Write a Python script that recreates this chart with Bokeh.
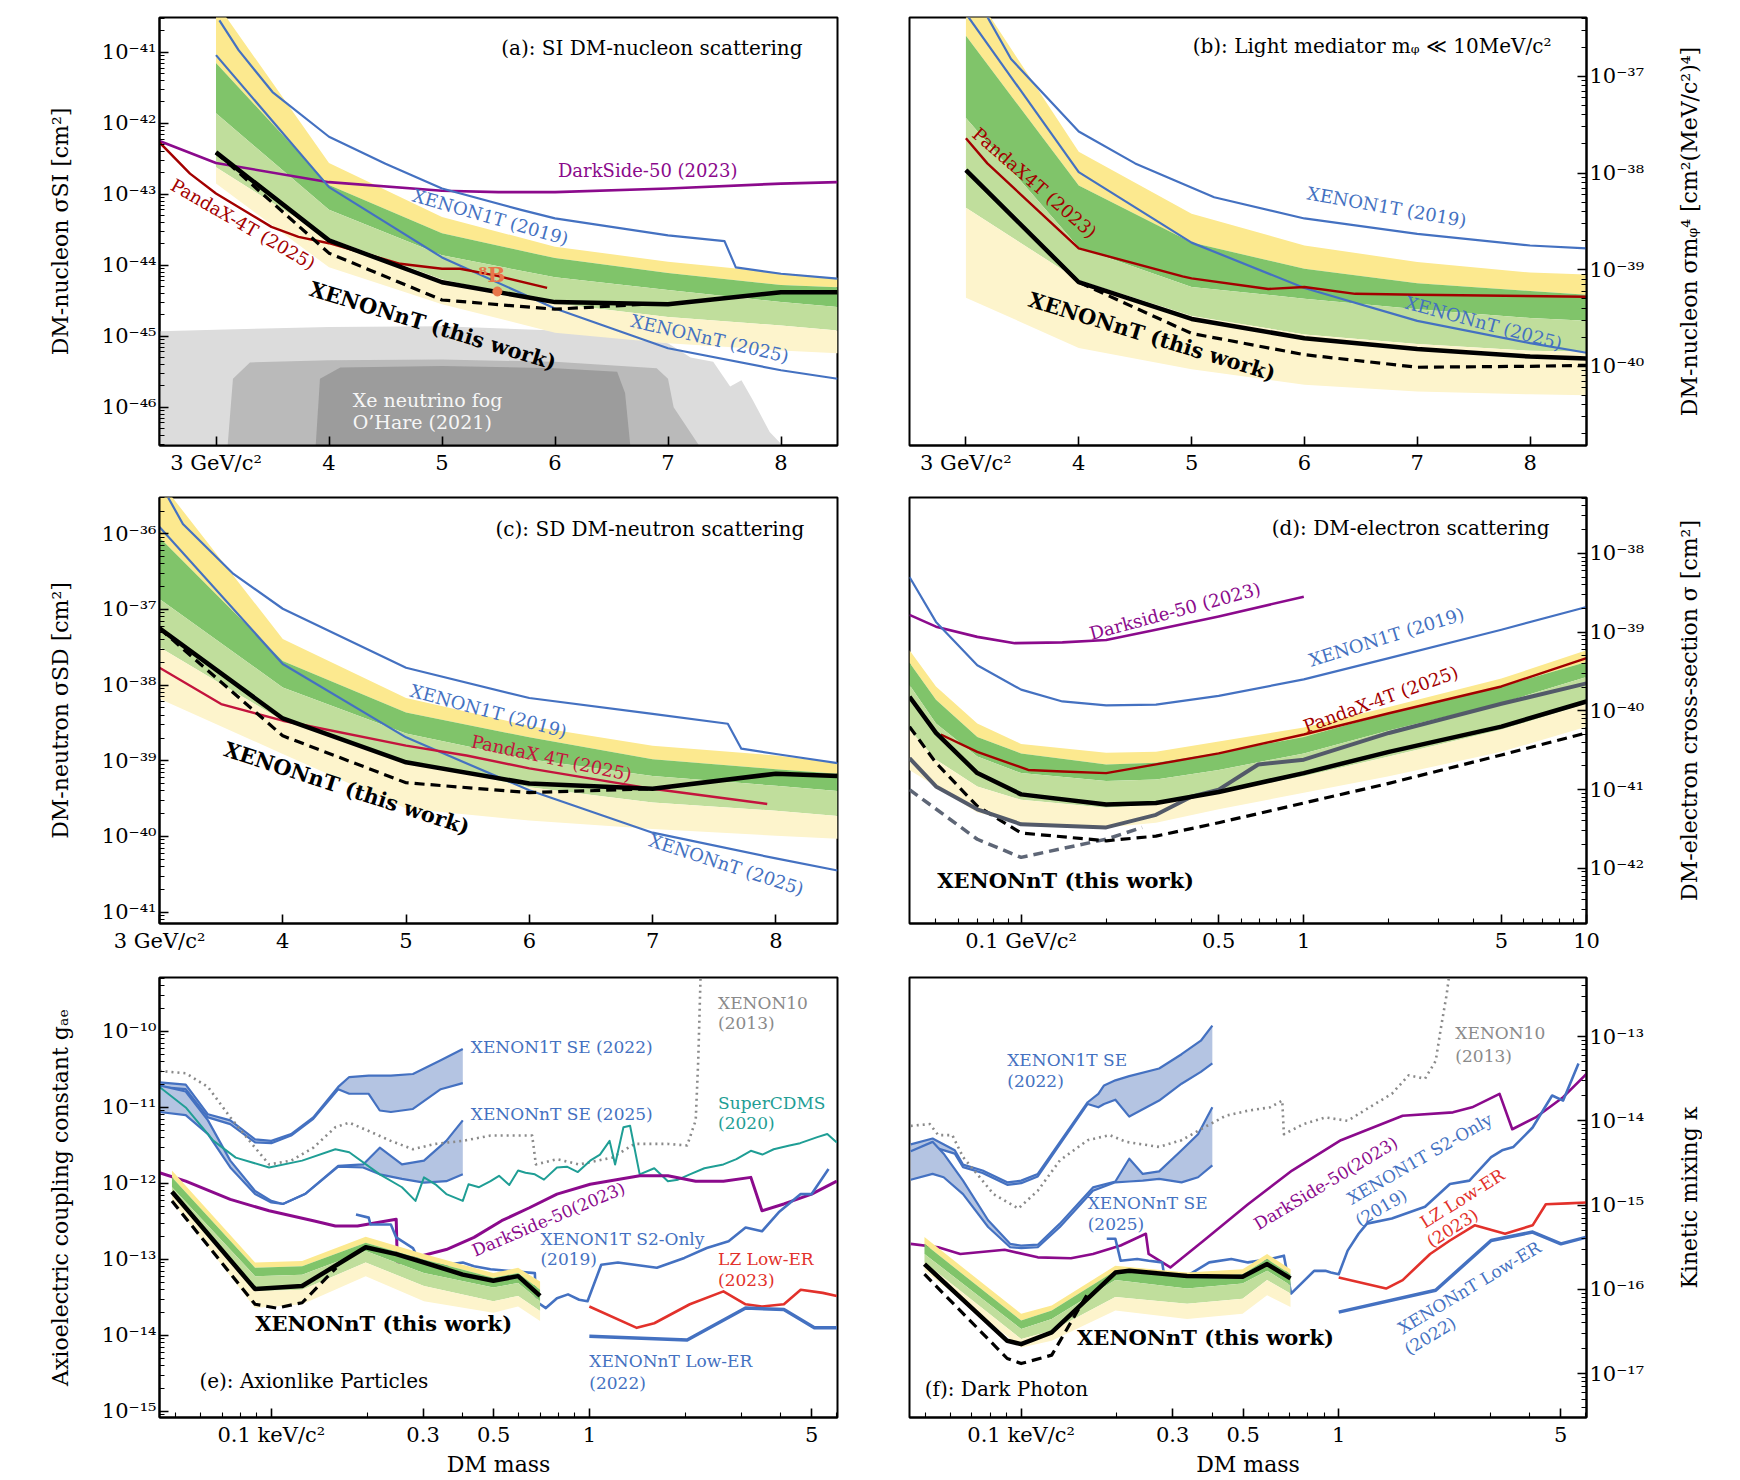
import numpy as np
from bokeh.plotting import figure
from bokeh.layouts import column, row
from bokeh.models import Range1d, FixedTicker, CustomJSTickFormatter, Label
from bokeh.embed import file_html
from bokeh.resources import INLINE

FONT = "DejaVu Serif"
BLUE = "#4471c1"
PURPLE = "#8b0a8c"
DARKRED = "#a30000"
CRIMSON = "#c3143d"
RED = "#e2312b"
TEAL = "#1f9e95"
GRAY = "#8a8a8a"
SLATE = "#535a69"
SLATE2 = "#5e6676"
ORANGE = "#e8764a"
YEL = "#fce98f"
DGREEN = "#80c46a"
LGREEN = "#c0de9c"
PALE = "#fdf4cc"
SEFILL = "#b4c4e2"
FOG1, FOG2, FOG3 = "#dcdcdc", "#bababa", "#9c9c9c"

# ---------------- data (log10 of cross-section / coupling) ----------------
# (a) SI DM-nucleon
A_BAND_X = [3, 4, 5, 6, 7, 8, 8.5]
A_UP2 = [-40.3, -42.56, -43.32, -43.74, -43.95, -44.11, -44.18]
A_UP1 = [-41.15, -42.87, -43.55, -43.90, -44.11, -44.28, -44.31]
A_MED = [-41.86, -43.22, -43.86, -44.17, -44.35, -44.52, -44.59]
A_LO1 = [-42.62, -43.62, -44.20, -44.54, -44.73, -44.85, -44.92]
A_LO2 = [-42.85, -44.03, -44.55, -44.95, -45.10, -45.20, -45.24]
A_OBS_X = [3, 4, 5, 6, 7, 8, 8.5]
A_OBS = [-42.41, -43.65, -44.24, -44.52, -44.55, -44.38, -44.38]
A_DASH_X = [3, 4, 5, 6, 6.8]
A_DASH = [-42.41, -43.83, -44.49, -44.62, -44.55]
A_X1T_X = [3.03, 3.2, 3.5, 4.0, 4.5, 5.0, 5.7, 6.0, 7.0, 7.5, 7.6, 8.0, 8.5]
A_X1T = [-40.55, -40.97, -41.56, -42.19, -42.57, -42.92, -43.22, -43.34, -43.58, -43.66, -44.03, -44.12, -44.19]
A_XNT_X = [3, 4, 5, 6, 7, 8, 8.5]
A_XNT = [-41.04, -42.90, -43.89, -44.61, -45.17, -45.48, -45.60]
A_DS_X = [2.5, 3, 4, 5, 5.5, 6, 7, 8, 8.5]
A_DS = [-42.25, -42.56, -42.83, -42.95, -42.97, -42.97, -42.92, -42.85, -42.83]
A_PDX_X = [2.5, 2.77, 3.0, 3.49, 3.73, 4.0, 4.63, 5.0, 5.16, 5.49, 5.93]
A_PDX = [-42.27, -42.71, -42.99, -43.46, -43.60, -43.69, -43.98, -44.05, -44.05, -44.15, -44.32]
A_B8_X = [5.49]
A_B8 = [-44.37]
A_FOG1_X = [2.5, 3.0, 4.0, 5.0, 6.0, 6.5, 7.0, 7.2, 7.4, 7.55, 7.65, 7.75, 7.9, 8.05]
A_FOG1 = [-44.93, -44.91, -44.87, -44.86, -44.92, -44.97, -45.10, -45.30, -45.36, -45.71, -45.62, -45.90, -46.35, -46.60]
A_FOG2_X = [3.1, 3.15, 3.3, 4.0, 5.0, 6.0, 6.9, 7.0, 7.05, 7.3]
A_FOG2 = [-46.6, -45.6, -45.37, -45.34, -45.33, -45.36, -45.45, -45.6, -46.0, -46.6]
A_FOG3_X = [3.88, 3.92, 4.1, 5.0, 6.0, 6.55, 6.62, 6.67]
A_FOG3 = [-46.6, -45.6, -45.44, -45.42, -45.45, -45.5, -45.8, -46.6]

# (b) light mediator
B_BAND_X = [3, 4, 5, 6, 7, 8, 8.5]
B_UP2 = [-36.0, -37.78, -38.42, -38.75, -38.92, -39.03, -39.05]
B_UP1 = [-36.58, -38.13, -38.72, -38.99, -39.14, -39.22, -39.26]
B_MED = [-37.43, -38.77, -39.18, -39.30, -39.41, -39.50, -39.53]
B_LO1 = [-38.36, -39.11, -39.48, -39.67, -39.77, -39.84, -39.85]
B_LO2 = [-39.29, -39.81, -40.03, -40.19, -40.26, -40.29, -40.30]
B_OBS_X = [3, 4, 5, 6, 7, 8, 8.5]
B_OBS = [-37.97, -39.13, -39.51, -39.71, -39.82, -39.90, -39.92]
B_DASH_X = [3, 4, 5, 6, 7, 8, 8.5]
B_DASH = [-37.97, -39.13, -39.66, -39.88, -40.01, -40.00, -39.99]
B_X1T_X = [3.15, 3.4, 4.0, 4.5, 5.2, 6, 7, 8, 8.5]
B_X1T = [-36.3, -36.82, -37.57, -37.9, -38.25, -38.47, -38.63, -38.75, -38.78]
B_XNT_X = [3, 4, 5, 6, 7, 8, 8.5]
B_XNT = [-36.35, -37.99, -38.72, -39.19, -39.53, -39.76, -39.86]
B_PDX_X = [3.0, 3.19, 4.0, 4.92, 5.0, 5.68, 6.0, 6.45, 7.0, 8.5]
B_PDX = [-37.64, -37.9, -38.78, -39.07, -39.09, -39.2, -39.18, -39.25, -39.26, -39.28]

# (c) SD DM-neutron
C_BAND_X = [3, 4, 5, 6, 7, 8, 8.5]
C_UP2 = [-35.3, -37.39, -38.17, -38.54, -38.80, -38.93, -39.03]
C_UP1 = [-36.05, -37.68, -38.36, -38.69, -38.98, -39.11, -39.17]
C_MED = [-36.86, -38.03, -38.64, -38.98, -39.20, -39.33, -39.40]
C_LO1 = [-37.50, -38.47, -39.00, -39.35, -39.55, -39.66, -39.73]
C_LO2 = [-38.18, -38.91, -39.63, -39.79, -39.90, -39.99, -40.03]
C_OBS_X = [3, 4, 5, 6, 7, 8, 8.5]
C_OBS = [-37.25, -38.44, -39.02, -39.30, -39.37, -39.17, -39.20]
C_DASH_X = [3, 4, 5, 6, 7]
C_DASH = [-37.25, -38.67, -39.29, -39.42, -39.37]
C_X1T_X = [3.07, 3.19, 3.6, 4, 5, 6, 7, 7.61, 7.72, 8, 8.5]
C_X1T = [-35.52, -35.87, -36.53, -36.99, -37.77, -38.17, -38.38, -38.51, -38.84, -38.91, -39.03]
C_XNT_X = [3, 4, 5, 6, 7, 8, 8.5]
C_XNT = [-35.91, -37.72, -38.69, -39.39, -39.95, -40.29, -40.45]
C_PDX_X = [3, 3.5, 4, 5, 5.49, 6, 7, 7.93]
C_PDX = [-37.77, -38.25, -38.47, -38.80, -38.93, -39.10, -39.37, -39.57]

# (d) DM-electron
D_BAND_X = [0.0403, 0.05, 0.07, 0.1, 0.2, 0.3, 0.5, 1, 2, 5, 10]
D_UP2 = [-39.23, -39.69, -40.16, -40.42, -40.53, -40.52, -40.39, -40.21, -39.95, -39.59, -39.23]
D_UP1 = [-39.39, -39.86, -40.33, -40.54, -40.68, -40.66, -40.53, -40.33, -40.03, -39.69, -39.38]
D_MED = [-39.67, -40.16, -40.58, -40.79, -40.89, -40.87, -40.75, -40.54, -40.25, -39.90, -39.57]
D_LO1 = [-40.24, -40.62, -40.96, -41.13, -41.23, -41.19, -41.04, -40.83, -40.58, -40.24, -39.91]
D_LO2 = [-40.75, -40.96, -41.29, -41.42, -41.48, -41.42, -41.25, -41.04, -40.83, -40.52, -40.20]
D_OBS = [-39.82, -40.28, -40.79, -41.06, -41.19, -41.17, -41.03, -40.79, -40.52, -40.20, -39.88]
D_DASH = [-40.20, -40.66, -41.21, -41.55, -41.65, -41.59, -41.42, -41.17, -40.92, -40.56, -40.28]
D_GR_X = [0.0403, 0.05, 0.07, 0.1, 0.2, 0.3, 0.4, 0.5, 0.69, 1, 2, 5, 10]
D_GR = [-40.60, -40.96, -41.25, -41.44, -41.48, -41.32, -41.09, -41.0, -40.68, -40.62, -40.28, -39.91, -39.65]
D_GRD_X = [0.0403, 0.07, 0.1, 0.2, 0.268]
D_GRD = [-41.0, -41.63, -41.86, -41.63, -41.48]
D_X1T_X = [0.0403, 0.05, 0.07, 0.1, 0.14, 0.2, 0.3, 0.5, 1, 2, 5, 10]
D_X1T = [-38.30, -38.87, -39.42, -39.73, -39.88, -39.93, -39.92, -39.81, -39.60, -39.33, -38.97, -38.68]
D_DS_X = [0.0403, 0.05, 0.07, 0.095, 0.14, 0.2, 0.3, 0.5, 1.0]
D_DS = [-38.78, -38.93, -39.06, -39.14, -39.13, -39.10, -38.97, -38.80, -38.55]
D_PDX_X = [0.052, 0.07, 0.106, 0.14, 0.2, 0.3, 0.5, 1, 2, 5, 10]
D_PDX = [-40.30, -40.52, -40.75, -40.77, -40.79, -40.68, -40.54, -40.30, -40.03, -39.69, -39.33]

# (e) axionlike particles
E_BAND_X = [0.0487, 0.0889, 0.125, 0.198, 0.302, 0.499, 0.597, 0.70]
E_UP2 = [-11.83, -13.04, -13.02, -12.70, -12.93, -13.18, -13.11, -13.29]
E_UP1 = [-11.92, -13.11, -13.09, -12.78, -13.00, -13.24, -13.18, -13.40]
E_MED = [-12.05, -13.22, -13.20, -12.89, -13.18, -13.37, -13.31, -13.55]
E_LO1 = [-12.14, -13.42, -13.40, -13.04, -13.35, -13.55, -13.48, -13.68]
E_LO2 = [-12.23, -13.64, -13.59, -13.22, -13.55, -13.70, -13.62, -13.81]
E_OBS_X = [0.0487, 0.0889, 0.125, 0.198, 0.247, 0.302, 0.40, 0.499, 0.597, 0.70]
E_OBS = [-12.11, -13.39, -13.35, -12.84, -12.93, -13.04, -13.20, -13.28, -13.22, -13.48]
E_DASH_X = [0.0487, 0.0889, 0.104, 0.125, 0.16]
E_DASH = [-12.23, -13.59, -13.64, -13.57, -13.11]
E_SE1_X = [0.0445, 0.0538, 0.0632, 0.0743, 0.0889, 0.1, 0.1154, 0.1355, 0.1623, 0.1758, 0.2024, 0.2193, 0.2376, 0.2788, 0.341, 0.40]
E_SE1_UP = [-10.67, -10.70, -11.09, -11.17, -11.42, -11.44, -11.35, -11.13, -10.73, -10.60, -10.58, -10.58, -10.58, -10.56, -10.38, -10.23]
E_SE1_LO = [-10.73, -10.76, -11.13, -11.22, -11.46, -11.47, -11.37, -11.15, -10.76, -10.82, -10.82, -11.04, -11.06, -11.02, -10.76, -10.68]
E_SE2_X = [0.0445, 0.0538, 0.0632, 0.0743, 0.0889, 0.1, 0.1087, 0.1276, 0.1623, 0.1944, 0.2193, 0.2575, 0.302, 0.355, 0.40]
E_SE2_UP = [-10.71, -10.79, -11.17, -11.70, -12.10, -12.23, -12.27, -12.14, -11.77, -11.75, -11.53, -11.75, -11.70, -11.44, -11.17]
E_SE2_LO = [-11.06, -11.10, -11.35, -11.79, -12.14, -12.25, -12.27, -12.14, -11.78, -11.79, -11.88, -11.94, -11.99, -11.97, -11.88]
E_CDMS_X = [0.0445, 0.0538, 0.0658, 0.0773, 0.0984, 0.125, 0.159, 0.1758, 0.2193, 0.2575, 0.284, 0.302, 0.33, 0.355,
            0.40, 0.417, 0.45, 0.489, 0.52, 0.56, 0.597, 0.63, 0.674, 0.72, 0.791, 0.85, 0.92, 1.006, 1.08, 1.158,
            1.205, 1.28, 1.343, 1.44, 1.6, 1.766, 1.9, 2.07, 2.3, 2.64, 2.9, 3.22, 3.5, 3.8, 4.26, 4.6, 5.21, 5.6, 6.0]
E_CDMS = [-10.73, -11.00, -11.44, -11.66, -11.79, -11.70, -11.55, -11.59, -11.88, -12.05, -12.23, -11.92, -12.02, -12.14,
          -12.23, -12.01, -12.05, -11.97, -11.90, -12.02, -11.83, -11.86, -11.88, -11.95, -11.79, -11.78, -11.85, -11.70, -11.62, -11.44,
          -11.75, -11.26, -11.24, -11.88, -11.80, -11.97, -11.95, -11.88, -11.80, -11.75, -11.68, -11.57, -11.62, -11.55, -11.50, -11.47, -11.39, -11.35, -11.46]
E_X10_X = [0.0445, 0.0538, 0.0632, 0.0743, 0.0889, 0.0984, 0.1154, 0.1355, 0.159, 0.1758, 0.2024, 0.2376, 0.2788, 0.327,
           0.40, 0.489, 0.661, 0.679, 0.791, 0.929, 1.181, 1.387, 1.766, 2.03, 2.16, 2.20, 2.24]
E_X10 = [-10.52, -10.55, -10.73, -11.13, -11.53, -11.75, -11.70, -11.53, -11.26, -11.20, -11.31, -11.44, -11.55, -11.48,
         -11.44, -11.37, -11.37, -11.75, -11.68, -11.75, -11.66, -11.48, -11.48, -11.50, -11.17, -10.38, -9.2]
E_DS_X = [0.0445, 0.0538, 0.0743, 0.0984, 0.1355, 0.159, 0.1866, 0.247, 0.249, 0.268, 0.355, 0.434, 0.530, 0.648, 0.791,
          1.006, 1.44, 1.766, 2.16, 2.64, 3.22, 3.49, 4.09, 5.0, 6.0]
E_DS = [-11.86, -11.97, -12.21, -12.36, -12.49, -12.56, -12.56, -12.47, -13.06, -13.00, -12.87, -12.71, -12.49, -12.32, -12.14,
        -12.01, -11.90, -11.90, -11.97, -11.97, -11.92, -12.36, -12.27, -12.14, -11.97]
E_S2_X = [0.1846, 0.2024, 0.205, 0.2376, 0.247, 0.2788, 0.302, 0.315, 0.355, 0.40, 0.434, 0.489, 0.674, 0.679, 0.730, 0.791,
          0.857, 0.929, 0.987, 1.09, 1.23, 1.63, 1.99, 2.34, 2.74, 3.1, 3.49, 3.94, 4.62, 5.0, 5.65]
E_S2 = [-12.41, -12.45, -12.54, -12.54, -12.71, -12.85, -13.15, -13.07, -13.07, -13.04, -13.09, -13.13, -13.18, -13.55, -13.64, -13.51,
        -13.46, -13.53, -13.55, -13.07, -13.04, -13.11, -12.98, -12.85, -12.76, -12.58, -12.63, -12.38, -12.14, -12.14, -11.81]
E_LZ_X = [1.0, 1.41, 1.6, 2.07, 2.64, 3.1, 3.49, 4.09, 4.62, 5.42, 6.0]
E_LZ = [-13.62, -13.90, -13.84, -13.59, -13.42, -13.59, -13.62, -13.59, -13.40, -13.44, -13.48]
E_LOWER_X = [1.0, 2.03, 3.1, 4.09, 5.1, 6.0]
E_LOWER = [-14.01, -14.06, -13.64, -13.66, -13.90, -13.90]

# (f) dark photon
F_BAND_X = [0.0496, 0.1, 0.1248, 0.198, 0.333, 0.498, 0.595, 0.705]
F_UP2 = [-15.38, -16.29, -16.19, -15.72, -15.80, -15.76, -15.58, -15.76]
F_UP1 = [-15.46, -16.37, -16.25, -15.78, -15.86, -15.82, -15.64, -15.82]
F_MED = [-15.58, -16.47, -16.35, -15.89, -15.99, -15.93, -15.78, -15.95]
F_LO1 = [-15.68, -16.59, -16.49, -16.09, -16.17, -16.11, -15.89, -16.05]
F_LO2 = [-15.78, -16.69, -16.61, -16.25, -16.35, -16.29, -16.07, -16.21]
F_OBS_X = [0.0496, 0.0904, 0.1, 0.1248, 0.198, 0.219, 0.333, 0.498, 0.595, 0.705]
F_OBS = [-15.70, -16.61, -16.65, -16.51, -15.80, -15.78, -15.84, -15.85, -15.70, -15.87]
F_DASH_X = [0.0496, 0.0904, 0.1, 0.1248, 0.162]
F_DASH = [-15.82, -16.82, -16.88, -16.78, -16.05]
F_SE1_X = [0.0449, 0.0526, 0.0618, 0.0656, 0.0756, 0.0904, 0.1, 0.1128, 0.162, 0.175, 0.1824, 0.198, 0.219, 0.272, 0.320, 0.368, 0.40]
F_SE1_UP = [-14.28, -14.21, -14.35, -14.52, -14.59, -14.73, -14.71, -14.63, -13.78, -13.68, -13.58, -13.52, -13.47, -13.38, -13.21, -13.05, -12.87]
F_SE1_LO = [-14.37, -14.31, -14.39, -14.55, -14.62, -14.76, -14.74, -14.66, -13.80, -13.84, -13.80, -13.75, -13.95, -13.76, -13.56, -13.42, -13.32]
F_SE2_X = [0.0449, 0.0526, 0.0570, 0.0656, 0.0787, 0.0923, 0.1, 0.1128, 0.1324, 0.1683, 0.198, 0.219, 0.2415, 0.272, 0.320, 0.3606, 0.40]
F_SE2_UP = [-14.36, -14.25, -14.39, -14.71, -15.18, -15.46, -15.48, -15.47, -15.22, -14.79, -14.72, -14.45, -14.63, -14.60, -14.35, -14.16, -13.84]
F_SE2_LO = [-14.70, -14.63, -14.67, -14.87, -15.26, -15.50, -15.51, -15.50, -15.26, -14.83, -14.73, -14.72, -14.71, -14.69, -14.73, -14.67, -14.53]
F_X10_X = [0.0449, 0.0516, 0.0548, 0.0607, 0.0656, 0.0726, 0.0818, 0.098, 0.1128, 0.1324, 0.162, 0.190, 0.214, 0.272, 0.320, 0.376,
           0.441, 0.518, 0.608, 0.664, 0.672, 0.774, 0.908, 1.067, 1.25, 1.47, 1.66, 1.87, 2.02, 2.1, 2.19, 2.24]
F_X10 = [-14.06, -14.04, -14.17, -14.17, -14.43, -14.63, -14.87, -15.04, -14.83, -14.47, -14.23, -14.17, -14.25, -14.31, -14.23, -14.08,
         -13.94, -13.88, -13.84, -13.76, -14.16, -14.04, -13.96, -14.00, -13.84, -13.68, -13.46, -13.50, -13.29, -12.89, -12.49, -12.2]
F_DS_X = [0.0449, 0.0548, 0.0643, 0.0887, 0.1128, 0.1435, 0.1683, 0.2057, 0.247, 0.252, 0.295, 0.376, 0.518, 0.713, 1.016, 1.59,
          2.29, 2.63, 3.21, 3.52, 4.17, 5.09, 6.04]
F_DS = [-15.46, -15.50, -15.58, -15.53, -15.62, -15.63, -15.58, -15.48, -15.34, -15.58, -15.74, -15.42, -14.99, -14.59, -14.23, -13.94,
        -13.90, -13.84, -13.68, -14.10, -13.96, -13.72, -13.44]
F_S2_X = [0.186, 0.198, 0.2057, 0.232, 0.252, 0.278, 0.284, 0.314, 0.333, 0.391, 0.459, 0.518, 0.608, 0.672, 0.708, 0.837, 0.908,
          0.945, 1.0, 1.067, 1.155, 1.227, 1.47, 1.87, 2.24, 2.58, 3.02, 3.27, 3.55, 4.08, 4.70, 5.09, 5.69]
F_S2 = [-15.40, -15.40, -15.66, -15.64, -15.66, -15.68, -15.91, -15.91, -15.84, -15.68, -15.64, -15.68, -15.64, -15.60, -16.05, -15.78, -15.78,
        -15.80, -15.82, -15.54, -15.34, -15.22, -15.16, -15.02, -14.75, -14.71, -14.43, -14.35, -14.31, -14.08, -13.70, -13.76, -13.32]
F_LZ_X = [1.0, 1.41, 1.59, 1.94, 2.24, 2.68, 3.34, 4.08, 4.49, 5.26, 6.04]
F_LZ = [-15.86, -15.99, -15.89, -15.58, -15.42, -15.24, -15.34, -15.24, -14.99, -14.98, -14.97]
F_LOWER_X = [1.0, 2.02, 3.02, 4.08, 5.01, 6.04]
F_LOWER = [-16.27, -16.01, -15.42, -15.32, -15.46, -15.38]

# axis tick values
LIN_TICKS = [3, 4, 5, 6, 7, 8]
D_TICKS = [0.1, 0.5, 1, 5, 10]
D_MINOR = [0.05, 0.06, 0.07, 0.08, 0.09, 0.2, 0.3, 0.4, 0.6, 0.7, 0.8, 0.9, 2, 3, 4, 6, 7, 8, 9]
EF_TICKS = [0.1, 0.3, 0.5, 1, 5]
EF_MINOR = [0.05, 0.06, 0.07, 0.08, 0.09, 0.2, 0.4, 0.6, 0.7, 0.8, 0.9, 2, 3, 4, 6]


def pw(v):
    return np.power(10.0, np.asarray(v, dtype=float))


YFMT = """
const e = Math.round(Math.log10(tick));
const sup = {"-": "\u207b", "0": "\u2070", "1": "\u00b9", "2": "\u00b2", "3": "\u00b3",
             "4": "\u2074", "5": "\u2075", "6": "\u2076", "7": "\u2077", "8": "\u2078", "9": "\u2079"};
let s = "";
for (const c of String(e)) { s += sup[c]; }
return "10" + s;
"""


def xfmt(first, unit):
    return CustomJSTickFormatter(code=f"""
const k = String(tick);
if (k === "{first}") return "{first} {unit}";
return k;
""")


def make_fig(x0, x1, ylo, yhi, xlog, right, fh, btop, bbot):
    p = figure(x_range=Range1d(x0, x1), y_range=Range1d(10.0 ** ylo, 10.0 ** yhi),
               x_axis_type="log" if xlog else "linear", y_axis_type="log",
               y_axis_location="right" if right else "left",
               frame_width=677 if right else 678, frame_height=fh,
               min_border_left=52 if right else 159, min_border_right=70 if right else 20,
               min_border_top=btop, min_border_bottom=bbot,
               output_backend="svg", toolbar_location=None)
    p.outline_line_color = "black"
    p.outline_line_width = 2
    p.outline_line_alpha = 1.0
    p.grid.visible = False
    p.background_fill_color = "white"
    p.border_fill_color = "white"
    kmaj = list(range(int(np.ceil(ylo)), int(np.floor(yhi)) + 1))
    kmin = list(range(int(np.floor(ylo)), int(np.ceil(yhi)) + 1))
    p.yaxis.ticker = FixedTicker(ticks=[10.0 ** k for k in kmaj],
                                 minor_ticks=[m * 10.0 ** k for k in kmin for m in range(2, 10)])
    p.yaxis.formatter = CustomJSTickFormatter(code=YFMT)
    for ax in p.axis:
        ax.axis_line_color = "black"
        ax.axis_line_width = 2
        ax.major_tick_line_color = "black"
        ax.major_tick_line_width = 1.6
        ax.minor_tick_line_color = "black"
        ax.minor_tick_line_width = 1.1
        ax.major_tick_in = 9
        ax.major_tick_out = 0
        ax.minor_tick_in = 5
        ax.minor_tick_out = 0
        ax.major_label_text_font = FONT
        ax.major_label_text_font_size = "21px"
        ax.major_label_text_color = "black"
        ax.major_label_standoff = 5
        ax.axis_label_text_font = FONT
        ax.axis_label_text_font_size = "22px"
        ax.axis_label_text_font_style = "normal"
        ax.axis_label_text_color = "black"
        ax.axis_label_standoff = 8
    for ax in p.yaxis:
        ax.major_label_standoff = 3
        ax.axis_label_standoff = 26
    return p


def side_label(text, fh, btop, bbot):
    # narrow companion figure whose left axis carries the right-hand axis title
    q = figure(x_range=Range1d(0, 1), y_range=Range1d(0, 1), frame_width=1, frame_height=fh,
               min_border_left=45, min_border_right=0, min_border_top=btop, min_border_bottom=bbot,
               output_backend="svg", toolbar_location=None)
    q.outline_line_color = None
    q.grid.visible = False
    q.background_fill_color = "white"
    q.border_fill_color = "white"
    q.xaxis.visible = False
    ax = q.yaxis[0]
    ax.ticker = FixedTicker(ticks=[], minor_ticks=[])
    ax.axis_line_color = None
    ax.major_tick_line_color = None
    ax.minor_tick_line_color = None
    ax.major_tick_out = 0
    ax.minor_tick_out = 0
    ax.major_label_standoff = 0
    ax.axis_label = text
    ax.axis_label_standoff = 0
    ax.axis_label_text_font = FONT
    ax.axis_label_text_font_size = "22px"
    ax.axis_label_text_font_style = "normal"
    ax.axis_label_text_color = "black"
    return q


def band(p, x, up2, up1, med, lo1, lo2):
    x = np.asarray(x, dtype=float)
    p.varea(x=x, y1=pw(up1), y2=pw(up2), fill_color=YEL)
    p.varea(x=x, y1=pw(med), y2=pw(up1), fill_color=DGREEN)
    p.varea(x=x, y1=pw(lo1), y2=pw(med), fill_color=LGREEN)
    p.varea(x=x, y1=pw(lo2), y2=pw(lo1), fill_color=PALE)


def ln(p, x, y, color, width=2.0, dash="solid"):
    p.line(np.asarray(x, dtype=float), pw(y), line_color=color, line_width=width,
           line_dash=dash, line_join="round")


def se_band(p, x, up, lo):
    x = np.asarray(x, dtype=float)
    p.varea(x=x, y1=pw(lo), y2=pw(up), fill_color=SEFILL)
    ln(p, x, up, BLUE, 2.2)
    ln(p, x, lo, BLUE, 2.2)


def lab(p, x, ylog, text, color="black", size="18px", angle=0.0, align="center",
        baseline="middle", style="normal"):
    p.add_layout(Label(x=x, y=10.0 ** ylog, text=text, text_color=color, text_font=FONT,
                       text_font_size=size, angle=angle, angle_units="deg",
                       text_align=align, text_baseline=baseline, text_font_style=style))


# ---------------- (a) ----------------
pa = make_fig(2.5, 8.5, -46.54, -40.51, False, False, 428, 17, 44)
ymin_a = 10.0 ** -46.6
pa.varea(x=np.asarray(A_FOG1_X, float), y1=ymin_a, y2=pw(A_FOG1), fill_color=FOG1)
pa.varea(x=np.asarray(A_FOG2_X, float), y1=ymin_a, y2=pw(A_FOG2), fill_color=FOG2)
pa.varea(x=np.asarray(A_FOG3_X, float), y1=ymin_a, y2=pw(A_FOG3), fill_color=FOG3)
band(pa, A_BAND_X, A_UP2, A_UP1, A_MED, A_LO1, A_LO2)
ln(pa, A_DS_X, A_DS, PURPLE, 2.6)
ln(pa, A_X1T_X, A_X1T, BLUE, 2.2)
ln(pa, A_XNT_X, A_XNT, BLUE, 2.2)
ln(pa, A_PDX_X, A_PDX, DARKRED, 2.4)
ln(pa, A_DASH_X, A_DASH, "black", 3.2, "10 6")
ln(pa, A_OBS_X, A_OBS, "black", 4.5)
pa.scatter(x=A_B8_X, y=pw(A_B8), size=9, color=ORANGE)
pa.xaxis.ticker = FixedTicker(ticks=LIN_TICKS, minor_ticks=[])
pa.xaxis.formatter = xfmt("3", "GeV/c²")
pa.yaxis.axis_label = "DM-nucleon σSI [cm²]"
lab(pa, 8.19, -40.94, "(a): SI DM-nucleon scattering", size="20px", align="right")
lab(pa, 6.82, -42.66, "DarkSide-50 (2023)", PURPLE)
lab(pa, 5.43, -43.32, "XENON1T (2019)", BLUE, angle=-16)
lab(pa, 3.24, -43.42, "PandaX-4T (2025)", DARKRED, angle=-30)
lab(pa, 4.92, -44.85, "XENONnT (this work)", "black", "21px", angle=-17, style="bold")
lab(pa, 7.37, -45.03, "XENONnT (2025)", BLUE, angle=-13)
lab(pa, 5.44, -44.13, "⁸B", ORANGE, "21px", style="bold")
lab(pa, 4.21, -45.90, "Xe neutrino fog", "#f6f6f6", "19px", align="left")
lab(pa, 4.21, -46.21, "O’Hare (2021)", "#f6f6f6", "19px", align="left")

# ---------------- (b) ----------------
pb = make_fig(2.5, 8.5, -40.82, -36.39, False, True, 428, 17, 44)
band(pb, B_BAND_X, B_UP2, B_UP1, B_MED, B_LO1, B_LO2)
ln(pb, B_X1T_X, B_X1T, BLUE, 2.2)
ln(pb, B_XNT_X, B_XNT, BLUE, 2.2)
ln(pb, B_PDX_X, B_PDX, DARKRED, 2.4)
ln(pb, B_DASH_X, B_DASH, "black", 3.2, "10 6")
ln(pb, B_OBS_X, B_OBS, "black", 4.5)
pb.xaxis.ticker = FixedTicker(ticks=LIN_TICKS, minor_ticks=[])
pb.xaxis.formatter = xfmt("3", "GeV/c²")
qb = side_label("DM-nucleon σmᵩ⁴ [cm²(MeV/c²)⁴]", 428, 17, 44)
lab(pb, 8.19, -36.69, "(b): Light mediator mᵩ ≪ 10MeV/c²", size="20px", align="right")
lab(pb, 6.73, -38.35, "XENON1T (2019)", BLUE, angle=-10)
lab(pb, 3.61, -38.10, "PandaX4T (2023)", DARKRED, angle=-41)
lab(pb, 7.59, -39.55, "XENONnT (2025)", BLUE, angle=-15)
lab(pb, 4.65, -39.69, "XENONnT (this work)", "black", "21px", angle=-17, style="bold")

# ---------------- (c) ----------------
pc = make_fig(3.0, 8.5, -41.15, -35.52, False, False, 426, 8, 46)
band(pc, C_BAND_X, C_UP2, C_UP1, C_MED, C_LO1, C_LO2)
ln(pc, C_X1T_X, C_X1T, BLUE, 2.2)
ln(pc, C_XNT_X, C_XNT, BLUE, 2.2)
ln(pc, C_PDX_X, C_PDX, CRIMSON, 2.4)
ln(pc, C_DASH_X, C_DASH, "black", 3.2, "10 6")
ln(pc, C_OBS_X, C_OBS, "black", 4.5)
pc.xaxis.ticker = FixedTicker(ticks=LIN_TICKS, minor_ticks=[])
pc.xaxis.formatter = xfmt("3", "GeV/c²")
pc.yaxis.axis_label = "DM-neutron σSD [cm²]"
lab(pc, 8.23, -35.93, "(c): SD DM-neutron scattering", size="20px", align="right")
lab(pc, 5.67, -38.34, "XENON1T (2019)", BLUE, angle=-15)
lab(pc, 6.18, -38.96, "PandaX 4T (2025)", CRIMSON, angle=-12)
lab(pc, 4.52, -39.36, "XENONnT (this work)", "black", "21px", angle=-18, style="bold")
lab(pc, 7.60, -40.37, "XENONnT (2025)", BLUE, angle=-18)

# ---------------- (d) ----------------
pd_ = make_fig(0.0403, 10.0, -42.70, -37.29, True, True, 426, 8, 46)
band(pd_, D_BAND_X, D_UP2, D_UP1, D_MED, D_LO1, D_LO2)
ln(pd_, D_DS_X, D_DS, PURPLE, 2.6)
ln(pd_, D_X1T_X, D_X1T, BLUE, 2.2)
ln(pd_, D_PDX_X, D_PDX, DARKRED, 2.4)
ln(pd_, D_GRD_X, D_GRD, SLATE2, 3.5, "10 6")
ln(pd_, D_BAND_X, D_DASH, "black", 3.2, "10 6")
ln(pd_, D_GR_X, D_GR, SLATE, 4.0)
ln(pd_, D_BAND_X, D_OBS, "black", 4.5)
pd_.xaxis.ticker = FixedTicker(ticks=D_TICKS, minor_ticks=D_MINOR)
pd_.xaxis.formatter = xfmt("0.1", "GeV/c²")
qd = side_label("DM-electron cross-section σ [cm²]", 426, 8, 46)
lab(pd_, 7.40, -37.68, "(d): DM-electron scattering", size="20px", align="right")
lab(pd_, 0.35, -38.73, "Darkside-50 (2023)", PURPLE, angle=15)
lab(pd_, 1.96, -39.06, "XENON1T (2019)", BLUE, angle=17)
lab(pd_, 1.87, -39.85, "PandaX-4T (2025)", DARKRED, angle=20)
lab(pd_, 0.0505, -42.16, "XENONnT (this work)", "black", "21px", align="left", style="bold")

# ---------------- (e) ----------------
pe = make_fig(0.0445, 6.03, -15.08, -9.29, True, False, 440, 8, 56)
se_band(pe, E_SE1_X, E_SE1_UP, E_SE1_LO)
se_band(pe, E_SE2_X, E_SE2_UP, E_SE2_LO)
ln(pe, E_X10_X, E_X10, GRAY, 2.6, "2 4")
ln(pe, E_CDMS_X, E_CDMS, TEAL, 2.0)
ln(pe, E_DS_X, E_DS, PURPLE, 3.0)
ln(pe, E_S2_X, E_S2, BLUE, 2.6)
ln(pe, E_LZ_X, E_LZ, RED, 2.6)
ln(pe, E_LOWER_X, E_LOWER, BLUE, 3.5)
band(pe, E_BAND_X, E_UP2, E_UP1, E_MED, E_LO1, E_LO2)
ln(pe, E_DASH_X, E_DASH, "black", 3.2, "10 6")
ln(pe, E_OBS_X, E_OBS, "black", 4.5)
pe.xaxis.ticker = FixedTicker(ticks=EF_TICKS, minor_ticks=EF_MINOR)
pe.xaxis.formatter = xfmt("0.1", "keV/c²")
pe.xaxis.axis_label = "DM mass"
pe.xaxis.axis_label_standoff = 2
pe.yaxis.axis_label = "Axioelectric coupling constant gₐₑ"
lab(pe, 0.0594, -14.60, "(e): Axionlike Particles", size="20px", align="left")
lab(pe, 0.424, -10.21, "XENON1T SE (2022)", BLUE, "17px", align="left")
lab(pe, 0.424, -11.08, "XENONnT SE (2025)", BLUE, "17px", align="left")
lab(pe, 2.54, -9.63, "XENON10", GRAY, "17px", align="left")
lab(pe, 2.54, -9.89, "(2013)", GRAY, "17px", align="left")
lab(pe, 2.54, -10.94, "SuperCDMS", TEAL, "17px", align="left")
lab(pe, 2.54, -11.21, "(2020)", TEAL, "17px", align="left")
lab(pe, 0.744, -12.47, "DarkSide-50(2023)", PURPLE, "17px", angle=23)
lab(pe, 0.702, -12.73, "XENON1T S2-Only", BLUE, "17px", align="left")
lab(pe, 0.702, -13.00, "(2019)", BLUE, "17px", align="left")
lab(pe, 2.54, -12.99, "LZ Low-ER", RED, "17px", align="left")
lab(pe, 2.54, -13.27, "(2023)", RED, "17px", align="left")
lab(pe, 1.0, -14.34, "XENONnT Low-ER", BLUE, "17px", align="left")
lab(pe, 1.0, -14.62, "(2022)", BLUE, "17px", align="left")
lab(pe, 0.089, -13.84, "XENONnT (this work)", "black", "21px", align="left", style="bold")

# ---------------- (f) ----------------
pf = make_fig(0.0445, 6.03, -17.52, -12.30, True, True, 440, 8, 56)
se_band(pf, F_SE1_X, F_SE1_UP, F_SE1_LO)
se_band(pf, F_SE2_X, F_SE2_UP, F_SE2_LO)
ln(pf, F_X10_X, F_X10, GRAY, 2.6, "2 4")
ln(pf, F_DS_X, F_DS, PURPLE, 2.6)
ln(pf, F_S2_X, F_S2, BLUE, 2.6)
ln(pf, F_LZ_X, F_LZ, RED, 2.6)
ln(pf, F_LOWER_X, F_LOWER, BLUE, 3.5)
band(pf, F_BAND_X, F_UP2, F_UP1, F_MED, F_LO1, F_LO2)
ln(pf, F_DASH_X, F_DASH, "black", 3.2, "10 6")
ln(pf, F_OBS_X, F_OBS, "black", 4.5)
pf.xaxis.ticker = FixedTicker(ticks=EF_TICKS, minor_ticks=EF_MINOR)
pf.xaxis.formatter = xfmt("0.1", "keV/c²")
pf.xaxis.axis_label = "DM mass"
pf.xaxis.axis_label_standoff = 2
qf = side_label("Kinetic mixing κ", 440, 8, 56)
lab(pf, 0.0497, -17.18, "(f): Dark Photon", size="20px", align="left")
lab(pf, 0.0904, -13.28, "XENON1T SE", BLUE, "17px", align="left")
lab(pf, 0.0904, -13.53, "(2022)", BLUE, "17px", align="left")
lab(pf, 0.162, -14.98, "XENONnT SE", BLUE, "17px", align="left")
lab(pf, 0.162, -15.23, "(2025)", BLUE, "17px", align="left")
lab(pf, 2.33, -12.96, "XENON10", GRAY, "17px", align="left")
lab(pf, 2.33, -13.23, "(2013)", GRAY, "17px", align="left")
lab(pf, 0.91, -14.74, "DarkSide-50(2023)", PURPLE, "17px", angle=31)
lab(pf, 1.80, -14.45, "XENON1T S2-Only", BLUE, "17px", angle=30)
lab(pf, 1.36, -15.03, "(2019)", BLUE, "17px", angle=30)
lab(pf, 2.45, -14.92, "LZ Low-ER", RED, "17px", angle=32)
lab(pf, 2.28, -15.27, "(2023)", RED, "17px", angle=32)
lab(pf, 2.58, -15.98, "XENONnT Low-ER", BLUE, "17px", angle=31)
lab(pf, 1.94, -16.55, "(2022)", BLUE, "17px", angle=31)
lab(pf, 0.15, -16.57, "XENONnT (this work)", "black", "21px", align="left", style="bold")

layout = column(row(pa, pb, qb), row(pc, pd_, qd), row(pe, pf, qf))
open("out.html", "w").write(file_html(layout, INLINE, title="XENONnT limits"))
